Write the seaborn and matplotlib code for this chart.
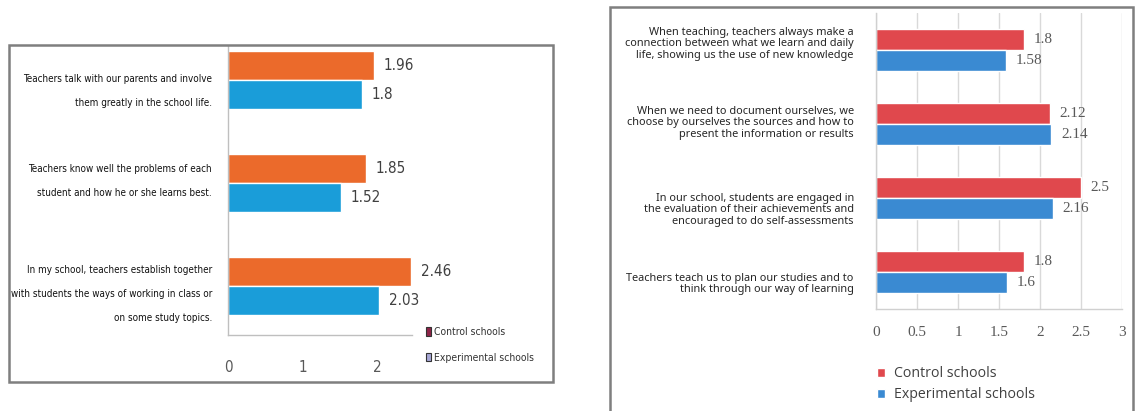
import os
import matplotlib
matplotlib.use("Agg")
import matplotlib.pyplot as plt
import matplotlib.font_manager as fm
from matplotlib.patches import Patch, Rectangle
from matplotlib.transforms import ScaledTranslation
import seaborn as sns
import pandas as pd

# ---------------- data ----------------
groups = ["Control schools", "Experimental schools"]

left_items = [
    "Teachers talk with our parents and involve\nthem greatly in the school life.",
    "Teachers know well the problems of each\nstudent and how he or she learns best.",
    "In my school, teachers establish together\nwith students the ways of working in class or\non some study topics.",
]
left_control = [1.96, 1.85, 2.46]
left_experimental = [1.8, 1.52, 2.03]
left_xticks = [0, 1, 2]

right_items = [
    "When teaching, teachers always make a\nconnection between what we learn and daily\nlife, showing us the use of new knowledge",
    "When we need to document ourselves, we\nchoose by ourselves the sources and how to\npresent the information or results",
    "In our school, students are engaged in\nthe evaluation of their achievements and\nencouraged to do self-assessments",
    "Teachers teach us to plan our studies and to\nthink through our way of learning",
]
right_control = [1.8, 2.12, 2.5, 1.8]
right_experimental = [1.58, 2.14, 2.16, 1.6]
right_xticks = [0, 0.5, 1, 1.5, 2, 2.5, 3]


def long_df(items, ctrl, exp):
    return pd.DataFrame({
        "item": list(items) * 2,
        "value": list(ctrl) + list(exp),
        "group": [groups[0]] * len(items) + [groups[1]] * len(items),
    })


dfL = long_df(left_items, left_control, left_experimental)
dfR = long_df(right_items, right_control, right_experimental)

sns.set_style("white")
plt.rcParams["font.family"] = ["DejaVu Sans"]

W, H = 1143, 411
fig = plt.figure(figsize=(W / 100, H / 100), dpi=100)
fig.patch.set_facecolor("white")
renderer = fig.canvas.get_renderer()


def frac(x0, y0, x1, y1):
    return [x0 / W, 1 - y1 / H, (x1 - x0) / W, (y1 - y0) / H]


# ---------- font helpers ----------
def pick_narrow():
    fl = fm.fontManager.ttflist
    for f in fl:
        if f.name in ("Liberation Sans Narrow", "Arial Narrow") and f.weight in (400, "normal", "regular") and f.style == "normal":
            return fm.FontProperties(fname=f.fname)
    for f in fl:
        base = os.path.basename(f.fname).lower()
        if ("condensed" in base or "narrow" in base or str(f.stretch) in ("condensed", "semi-condensed")) \
                and "bold" not in base and "italic" not in base and "oblique" not in base and "light" not in base:
            return fm.FontProperties(fname=f.fname)
    return fm.FontProperties(family="Liberation Sans")


def with_size(fp, size):
    p = fp.copy()
    p.set_size(size)
    return p


def text_size(s, fp, linespacing=1.2):
    t = fig.text(0, 0, s, fontproperties=fp, linespacing=linespacing)
    bb = t.get_window_extent(renderer)
    t.remove()
    return bb.width, bb.height


def fit_size(s, fp, target_w):
    w, _ = text_size(s, with_size(fp, 10))
    return 10 * target_w / w


def fit_linespacing(fp, target_step):
    _, h1 = text_size("Ag", fp, 1.0)
    _, h2 = text_size("Ag\nAg", fp, 1.0)
    return target_step / (h2 - h1)


def shift_labels(labels, offsets_px):
    for lab, dy in zip(labels, offsets_px):
        lab.set_transform(lab.get_transform() + ScaledTranslation(0, -dy / 100, fig.dpi_scale_trans))


NARROW = pick_narrow()
lab_size = fit_size("with students the ways of working in class or", NARROW, 200)
fpL_lab = with_size(NARROW, lab_size)
lsL = fit_linespacing(fpL_lab, 24.5) * 1.11
fpL_num = with_size(NARROW, fit_size("1.96", NARROW, 30))
fpL_leg = with_size(NARROW, fit_size("Experimental schools", NARROW, 100))

SANS = fm.FontProperties(family="Noto Sans")
fpR_lab = with_size(SANS, fit_size("connection between what we learn and daily", SANS, 228))
lsR = fit_linespacing(fpR_lab, 11.8)
SERIF = fm.FontProperties(family="Liberation Serif", size=11)
fpR_leg = with_size(fm.FontProperties(family="Open Sans"),
                    fit_size("Experimental schools", fm.FontProperties(family="Open Sans"), 140))

# ---------------- left panel ----------------
L_COLORS = ["#EB6A2B", "#1A9DD9"]
axL = fig.add_axes(frac(228, 46, 412, 335))
sns.barplot(data=dfL, y="item", x="value", hue="group", orient="h",
            order=left_items, hue_order=groups, palette=L_COLORS,
            width=0.563, saturation=1, errorbar=None, legend=False, ax=axL)
axL.set_xlim(0, 2.47)
axL.set_ylim(2.476, -0.33)
axL.set_xlabel("")
axL.set_ylabel("")
for s in ["top", "right"]:
    axL.spines[s].set_visible(False)
for s in ["left", "bottom"]:
    axL.spines[s].set_color("#BFBFBF")
    axL.spines[s].set_linewidth(1.0)
axL.set_xticks(left_xticks)
axL.set_xticklabels([f"{t:g}" for t in left_xticks], fontproperties=fpL_num, color="#595959")
axL.tick_params(axis="x", direction="inout", length=6, color="#BFBFBF", pad=15)
axL.set_yticks(range(len(left_items)))
axL.set_yticklabels(left_items, fontproperties=fpL_lab, color="#111111",
                    linespacing=lsL, ha="right")
axL.set_yticks([0.5, 1.5], minor=True)
axL.tick_params(axis="y", which="major", length=0, pad=11.5)
axL.tick_params(axis="y", which="minor", length=3, color="#BFBFBF", direction="out")
shift_labels(axL.get_yticklabels(), [3, -10, 0])
for cont, vals in zip(axL.containers, [left_control, left_experimental]):
    axL.bar_label(cont, labels=[f"{v:g}" for v in vals], padding=7,
                  fontproperties=fpL_num, color="#404040")

fig.legend(handles=[Patch(facecolor="#8E2448", edgecolor="#333333", lw=0.8),
                    Patch(facecolor="#A7A7D6", edgecolor="#333333", lw=0.8)],
           labels=groups, loc="upper left",
           bbox_to_anchor=(426 / W, 1 - 327 / H), frameon=False,
           prop=fpL_leg, labelcolor="#333333",
           handlelength=0.45, handleheight=0.9, handletextpad=0.35,
           labelspacing=1.5, borderpad=0, borderaxespad=0)

fig.add_artist(Rectangle((9 / W, 1 - 382 / H), (553 - 9) / W, (382 - 45) / H,
                         transform=fig.transFigure, fill=False,
                         edgecolor="#7F7F7F", lw=1.8))

# ---------------- right panel ----------------
R_COLORS = ["#E0484D", "#3A8AD2"]
axR = fig.add_axes(frac(876, 13, 1122, 309))
sns.barplot(data=dfR, y="item", x="value", hue="group", orient="h",
            order=right_items, hue_order=groups, palette=R_COLORS,
            width=0.568, saturation=1, errorbar=None, legend=False, ax=axR)
axR.set_xlim(0, 3)
axR.set_ylim(3.5, -0.5)
axR.set_xlabel("")
axR.set_ylabel("")
axR.set_axisbelow(True)
axR.xaxis.grid(True, color="#D9D9D9", lw=1.0)
for s in ["top", "right"]:
    axR.spines[s].set_visible(False)
for s in ["left", "bottom"]:
    axR.spines[s].set_color("#D0D0D0")
    axR.spines[s].set_linewidth(1.0)
axR.set_xticks(right_xticks)
axR.set_xticklabels([f"{t:g}" for t in right_xticks], fontproperties=SERIF, color="#595959")
axR.tick_params(axis="x", direction="out", length=4, color="#D0D0D0", pad=8)
axR.set_yticks(range(len(right_items)))
axR.set_yticklabels(right_items, fontproperties=fpR_lab, color="#262626",
                    linespacing=lsR, ha="right")
axR.set_yticks([0.5, 1.5, 2.5], minor=True)
axR.tick_params(axis="y", which="major", length=0, pad=16)
axR.tick_params(axis="y", which="minor", length=3, color="#D0D0D0", direction="out")
shift_labels(axR.get_yticklabels(), [-8, -3, 10, 10])
for cont, vals in zip(axR.containers, [right_control, right_experimental]):
    axR.bar_label(cont, labels=[f"{v:g}" for v in vals], padding=7,
                  fontproperties=SERIF, color="#595959")

fig.legend(handles=[Patch(facecolor=R_COLORS[0]), Patch(facecolor=R_COLORS[1])],
           labels=groups, loc="upper left",
           bbox_to_anchor=(877 / W, 1 - 366 / H), frameon=False,
           prop=fpR_leg, labelcolor="#404040",
           handlelength=0.6, handleheight=0.6, handletextpad=0.6,
           labelspacing=0.45, borderpad=0, borderaxespad=0)

fig.add_artist(Rectangle((610 / W, -0.02), (1133 - 610) / W, 1 - 7 / H + 0.02,
                         transform=fig.transFigure, fill=False,
                         edgecolor="#7F7F7F", lw=1.8))

fig.savefig("out.png", dpi=100, facecolor="white")
